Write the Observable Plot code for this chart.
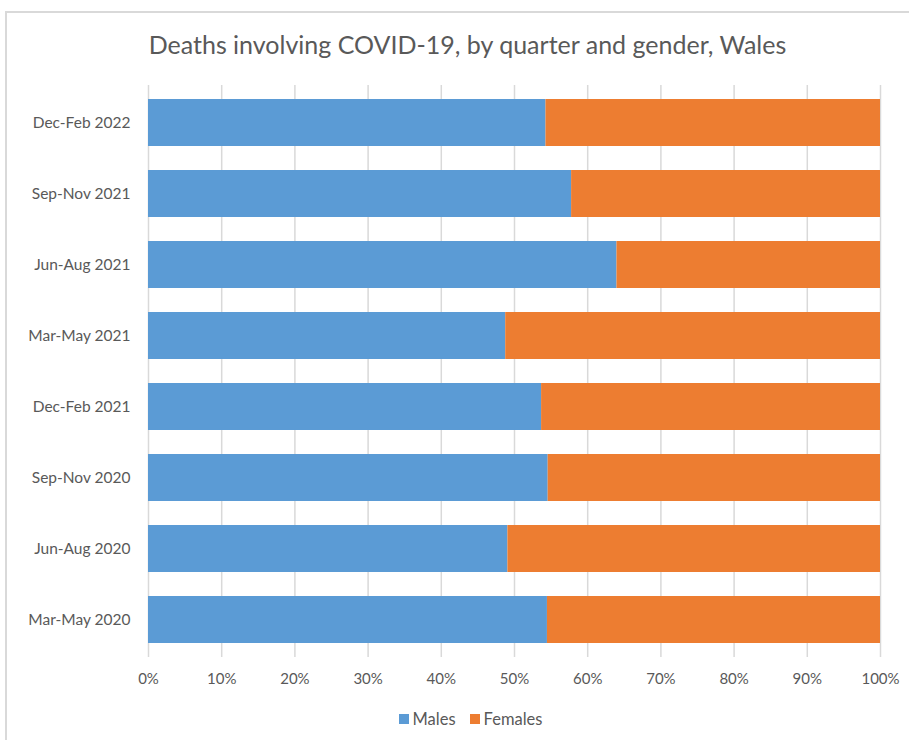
<!DOCTYPE html>
<html>
<head>
<meta charset="utf-8">
<script src="https://cdn.jsdelivr.net/npm/d3@7"></script>
<script src="https://cdn.jsdelivr.net/npm/@observablehq/plot@0.6"></script>
<style>
  html, body { margin: 0; padding: 0; background: #fff; }
  #wrap { position: relative; width: 909px; height: 740px; overflow: hidden; font-family: Lato, "Open Sans", sans-serif; color: #595959; }
  #frame { position: absolute; left: 5px; top: 11px; width: 1000px; height: 1000px; border: 2px solid #d9d9d9; box-sizing: border-box; pointer-events: none; }
  #title { position: relative; height: 70px; line-height: 88px; padding-left: 26px; text-align: center; font-size: 25px; }
  #chart { position: relative; height: 627px; }
  #legend { position: relative; height: 43px; display: flex; justify-content: center; align-items: center; padding-left: 32px; font-size: 16.5px; gap: 14px; }
  .item { display: flex; align-items: center; gap: 4px; }
  .sw { width: 10px; height: 10px; display: inline-block; }
</style>
</head>
<body>
<div id="wrap">
  <div id="frame"></div>
  <div id="title">Deaths involving COVID-19, by quarter and gender, Wales</div>
  <div id="chart"></div>
  <div id="legend"></div>
</div>
<script>
const quarters = ["Mar-May 2020", "Jun-Aug 2020", "Sep-Nov 2020", "Dec-Feb 2021", "Mar-May 2021", "Jun-Aug 2021", "Sep-Nov 2021", "Dec-Feb 2022"];
const males   = [54.5, 49.1, 54.6, 53.7, 48.8, 64.0, 57.8, 54.3];
const females = [45.5, 50.9, 45.4, 46.3, 51.2, 36.0, 42.2, 45.7];
const seriesNames = ["Males", "Females"];
const seriesColors = ["#5b9bd5", "#ed7d31"];
const xTicks = [0, 10, 20, 30, 40, 50, 60, 70, 80, 90, 100];

const data = [];
quarters.forEach((q, i) => {
  data.push({quarter: q, series: "Males", value: males[i]});
  data.push({quarter: q, series: "Females", value: females[i]});
});

const chart = Plot.plot({
  width: 909,
  height: 627,
  marginTop: 15,
  marginBottom: 40,
  marginLeft: 148,
  marginRight: 29,
  style: {fontFamily: "Lato, 'Open Sans', sans-serif", fontSize: "15px", color: "#595959", background: "transparent"},
  x: {domain: [0, 100]},
  y: {domain: quarters.slice().reverse(), paddingInner: 0.343, paddingOuter: 0.1715},
  color: {domain: seriesNames, range: seriesColors},
  marks: [
    Plot.gridX(xTicks, {stroke: "#d9d9d9", strokeOpacity: 1, strokeWidth: 1.5}),
    Plot.barX(data, Plot.stackX({x: "value", y: "quarter", fill: "series", order: null})),
    Plot.axisX({ticks: xTicks, tickFormat: d => d + "%", tickSize: 0, tickPadding: 16, label: null, fontSize: 15}),
    Plot.axisY({tickSize: 0, tickPadding: 18, label: null, fontSize: 15.5})
  ]
});
document.getElementById("chart").appendChild(chart);

const legend = document.getElementById("legend");
seriesNames.forEach((name, i) => {
  const it = document.createElement("span");
  it.className = "item";
  const sw = document.createElement("span");
  sw.className = "sw";
  sw.style.background = seriesColors[i];
  const tx = document.createElement("span");
  tx.textContent = name;
  it.appendChild(sw);
  it.appendChild(tx);
  legend.appendChild(it);
});
</script>
</body>
</html>
